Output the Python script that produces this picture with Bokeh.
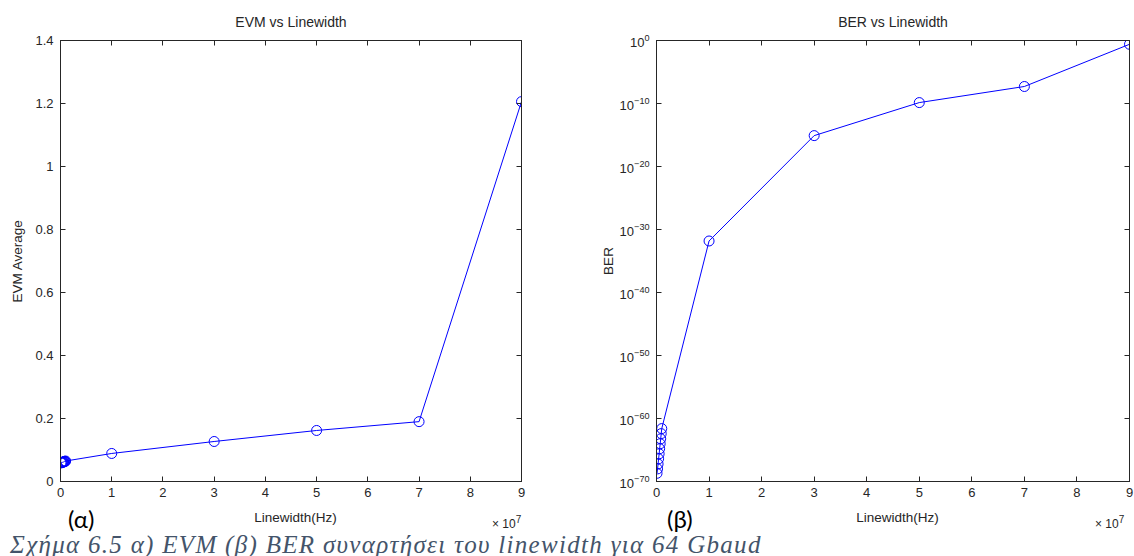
from bokeh.plotting import figure
from bokeh.models import (Range1d, FixedTicker, LinearAxis, LogAxis,
                          CustomJSTickFormatter, Div)
from bokeh.layouts import row, column
from bokeh.embed import file_html
from bokeh.resources import INLINE

# ---------------- data ----------------
linewidth = [1e5, 2e5, 3e5, 4e5, 5e5, 6e5, 7e5, 8e5, 9e5, 1e6,
             1e7, 3e7, 5e7, 7e7, 9e7]
evm_avg = [0.059, 0.060, 0.060, 0.061, 0.062, 0.062, 0.063, 0.064, 0.064, 0.065,
           0.089, 0.127, 0.162, 0.190, 1.206]
ber = [2e-69, 1e-68, 6e-68, 4e-67, 2.5e-66, 1.6e-65, 1e-64, 6e-64, 4e-63, 2.5e-62,
       1.5e-32, 8e-16, 1.4e-10, 5e-8, 0.25]

x_ticks = [0, 1e7, 2e7, 3e7, 4e7, 5e7, 6e7, 7e7, 8e7, 9e7]
x_tick_labels = ["0", "1", "2", "3", "4", "5", "6", "7", "8", "9"]
evm_ticks = [0, 0.2, 0.4, 0.6, 0.8, 1.0, 1.2, 1.4]
evm_tick_labels = ["0", "0.2", "0.4", "0.6", "0.8", "1", "1.2", "1.4"]
ber_ticks = [1e-70, 1e-60, 1e-50, 1e-40, 1e-30, 1e-20, 1e-10, 1]

title_left = "EVM vs Linewidth"
title_right = "BER vs Linewidth"
xlabel = "Linewidth(Hz)"
x_multiplier = "× 10<sup>7</sup>"
ylabel_left = "EVM Average"
ylabel_right = "BER"
tag_left = "(α)"
tag_right = "(β)"
caption = "Σχήμα 6.5 α) EVM (β) BER συναρτήσει του linewidth για 64 Gbaud"

FONT = "Liberation Sans"
AX = "#262626"
BLUE = "#0000FF"
FIG_H = 504


def lookup_fmt(vals, labels):
    return CustomJSTickFormatter(args=dict(tvals=vals, tlabels=labels), code="""
        const i = tvals.indexOf(tick);
        return i >= 0 ? tlabels[i] : "";
    """)


def empty_fmt():
    return CustomJSTickFormatter(code='return "";')


def style_axis(ax, labels=True):
    ax.axis_line_color = AX
    ax.major_tick_line_color = AX
    ax.major_tick_in = 5
    ax.major_tick_out = 0
    ax.minor_tick_line_color = None
    ax.major_label_text_font = FONT
    ax.major_label_text_font_size = "13px"
    ax.major_label_text_color = AX
    ax.axis_label_text_font = FONT
    ax.axis_label_text_font_size = "13.5px"
    ax.axis_label_text_font_style = "normal"
    ax.axis_label_text_color = AX
    if not labels:
        ax.major_label_standoff = 0
        ax.major_label_text_font_size = "1px"


def make_fig(width, min_left, min_right, y_type, y_range, title):
    p = figure(width=width, height=FIG_H, output_backend="svg", toolbar_location=None,
               x_range=Range1d(0, 9e7), y_range=y_range, y_axis_type=y_type,
               min_border_left=min_left, min_border_right=min_right,
               min_border_top=40, min_border_bottom=23)
    p.title.text = title
    p.title.align = "center"
    p.title.text_font = FONT
    p.title.text_font_size = "14px"
    p.title.text_font_style = "normal"
    p.title.text_color = AX
    p.title.standoff = 22
    p.xgrid.visible = False
    p.ygrid.visible = False
    p.outline_line_color = AX
    p.background_fill_color = "white"
    p.border_fill_color = "white"
    return p


# ---------------- left: EVM ----------------
p1 = make_fig(590, 60, 69, "linear", Range1d(0, 1.4), title_left)
p1.xaxis.ticker = FixedTicker(ticks=x_ticks)
p1.xaxis.formatter = lookup_fmt(x_ticks, x_tick_labels)
p1.xaxis.major_label_standoff = 6
p1.yaxis.ticker = FixedTicker(ticks=evm_ticks)
p1.yaxis.formatter = lookup_fmt(evm_ticks, evm_tick_labels)
p1.yaxis.axis_label = ylabel_left
p1.yaxis.major_label_standoff = 7
p1.yaxis.axis_label_standoff = 7
style_axis(p1.xaxis[0])
style_axis(p1.yaxis[0])
top1 = LinearAxis(ticker=FixedTicker(ticks=x_ticks), formatter=empty_fmt())
right1 = LinearAxis(ticker=FixedTicker(ticks=evm_ticks), formatter=empty_fmt())
style_axis(top1, False)
style_axis(right1, False)
p1.add_layout(top1, "above")
p1.add_layout(right1, "right")

p1.line(linewidth, evm_avg, line_color=BLUE, line_width=1)
p1.scatter(linewidth, evm_avg, marker="circle", size=10, fill_color=None,
           line_color=BLUE, line_width=1)

# ---------------- right: BER ----------------
p2 = make_fig(544, 66, 5, "log", Range1d(1e-70, 1), title_right)
p2.xaxis.ticker = FixedTicker(ticks=x_ticks)
p2.xaxis.formatter = lookup_fmt(x_ticks, x_tick_labels)
p2.xaxis.major_label_standoff = 6
p2.yaxis.ticker = FixedTicker(ticks=ber_ticks)
p2.yaxis.axis_label = ylabel_right
p2.yaxis.major_label_standoff = 7
p2.yaxis.axis_label_standoff = 1
style_axis(p2.xaxis[0])
style_axis(p2.yaxis[0])
top2 = LinearAxis(ticker=FixedTicker(ticks=x_ticks), formatter=empty_fmt())
right2 = LogAxis(ticker=FixedTicker(ticks=ber_ticks), formatter=empty_fmt())
style_axis(top2, False)
style_axis(right2, False)
p2.add_layout(top2, "above")
p2.add_layout(right2, "right")

p2.line(linewidth, ber, line_color=BLUE, line_width=1)
p2.scatter(linewidth, ber, marker="circle", size=10, fill_color=None,
           line_color=BLUE, line_width=1)

# ---------------- bottom band: x labels, panel tags, caption ----------------
sans = f"font-family:'{FONT}';color:{AX};white-space:nowrap;position:absolute;"
tag = ("font-family:'Lato';color:#000;font-size:24px;line-height:24px;"
       "white-space:nowrap;position:absolute;top:-2px;")
band = f"""
<div style="position:relative;width:1134px;height:52px;">
  <span style="{tag}left:63px;">{tag_left}</span>
  <span style="{tag}left:662px;">{tag_right}</span>
  <div style="{sans}left:60px;width:461px;text-align:center;top:2px;font-size:13.5px;line-height:14px;">{xlabel}</div>
  <div style="{sans}left:656px;width:473px;text-align:center;top:2px;font-size:13.5px;line-height:14px;">{xlabel}</div>
  <span style="{sans}left:487px;top:5px;font-size:12px;line-height:12px;">{x_multiplier}</span>
  <span style="{sans}left:1090px;top:5px;font-size:12px;line-height:12px;">{x_multiplier}</span>
  <div style="position:absolute;left:5px;top:24px;font-family:'Liberation Serif';font-style:italic;
       font-size:25px;line-height:24px;color:#44546A;letter-spacing:1.3px;white-space:nowrap;">{caption}</div>
</div>
"""
cap = Div(text=band, width=1134, height=52)

layout = column(row(p1, p2), cap)
open("out.html", "w").write(file_html(layout, INLINE))
